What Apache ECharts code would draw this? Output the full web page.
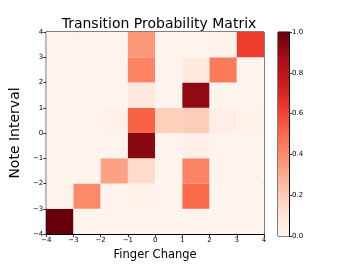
<!DOCTYPE html>
<html>
<head>
<meta charset="utf-8">
<script src="https://cdn.jsdelivr.net/npm/echarts@6/dist/echarts.min.js"></script>
<style>html,body{margin:0;padding:0;background:#fff}#c{width:354px;height:266px}</style>
</head>
<body>
<div id="c"></div>
<script>
// Left edges of cells (Finger Change) and bottom edges (Note Interval)
const xEdges = [-4, -3, -2, -1, 0, 1, 2, 3];
const yEdges = [-4, -3, -2, -1, 0, 1, 2, 3];
// Probability rows, one per Note Interval bottom edge (columns follow xEdges)
const rowY3  = [0.01, 0.01, 0.01, 0.36, 0.01, 0.01, 0.02, 0.62];
const rowY2  = [0.01, 0.01, 0.01, 0.42, 0.01, 0.07, 0.45, 0.01];
const rowY1  = [0.01, 0.01, 0.01, 0.07, 0.01, 0.92, 0.01, 0.01];
const rowY0  = [0.01, 0.01, 0.03, 0.52, 0.18, 0.19, 0.04, 0.02];
const rowYm1 = [0.01, 0.01, 0.01, 0.93, 0.01, 0.04, 0.01, 0.01];
const rowYm2 = [0.01, 0.01, 0.33, 0.14, 0.01, 0.42, 0.01, 0.01];
const rowYm3 = [0.01, 0.40, 0.01, 0.03, 0.01, 0.50, 0.01, 0.01];
const rowYm4 = [1.00, 0.01, 0.01, 0.01, 0.01, 0.01, 0.01, 0.01];
const colorbarTicks = [0, 0.2, 0.4, 0.6, 0.8, 1.0];
const reds = ['#fff5f0','#fee0d2','#fcbba1','#fc9272','#fb6a4a','#ef3b2c','#cb181d','#a50f15','#67000d'];

const rowsByY = {'-4': rowYm4, '-3': rowYm3, '-2': rowYm2, '-1': rowYm1, '0': rowY0, '1': rowY1, '2': rowY2, '3': rowY3};
const data = [];
yEdges.forEach(y => {
  xEdges.forEach((x, i) => data.push([x, y, rowsByY[String(y)][i]]));
});

const minus = v => String(v).replace('-', '\u2212');
const font = 'DejaVu Sans';
const chart = echarts.init(document.getElementById('c'), null, {renderer: 'canvas'});
const axisCommon = {
  axisLine: {show: true, onZero: false, lineStyle: {color: '#000', width: 1}},
  axisTick: {show: true, inside: false, length: 3, lineStyle: {color: '#000', width: 0.8}},
  splitLine: {show: false},
  axisLabel: {fontSize: 7, color: '#000', fontFamily: font, margin: 3}
};
chart.setOption({
  animation: false,
  backgroundColor: '#fff',
  title: {
    text: 'Transition Probability Matrix',
    left: 154, top: 12, textAlign: 'center',
    textStyle: {fontSize: 14, fontWeight: 'normal', color: '#000', fontFamily: font}
  },
  grid: [
    {left: 44, top: 32, width: 220, height: 204, show: true, borderColor: '#000', borderWidth: 1},
    {left: 278, top: 32, width: 11, height: 204, show: true, borderColor: '#000', borderWidth: 1}
  ],
  xAxis: [
    Object.assign({}, axisCommon, {
      gridIndex: 0, type: 'value', min: -4, max: 4, interval: 1,
      axisLabel: Object.assign({}, axisCommon.axisLabel, {formatter: minus}),
      name: 'Finger Change', nameLocation: 'middle', nameGap: 15,
      nameTextStyle: {fontSize: 11.5, color: '#000', fontFamily: font}
    }),
    {gridIndex: 1, type: 'value', min: 0, max: 1, show: false}
  ],
  yAxis: [
    Object.assign({}, axisCommon, {
      gridIndex: 0, type: 'value', min: -4, max: 4, interval: 1,
      axisLabel: Object.assign({}, axisCommon.axisLabel, {formatter: minus}),
      name: 'Note Interval', nameLocation: 'middle', nameGap: 18,
      nameTextStyle: {fontSize: 14, color: '#000', fontFamily: font}
    }),
    Object.assign({}, axisCommon, {
      gridIndex: 1, type: 'value', min: 0, max: 1, interval: 0.2, position: 'right',
      axisLabel: Object.assign({}, axisCommon.axisLabel, {formatter: v => v.toFixed(1)})
    })
  ],
  visualMap: {
    show: false, type: 'continuous', min: 0, max: 1, dimension: 2, seriesIndex: 0,
    inRange: {color: reds}
  },
  series: [
    {
      type: 'custom', xAxisIndex: 0, yAxisIndex: 0,
      encode: {x: 0, y: 1},
      data: data,
      renderItem: function (params, api) {
        const x = api.value(0), y = api.value(1);
        const p0 = api.coord([x, y + 1]);
        const p1 = api.coord([x + 1, y]);
        return {type: 'rect', shape: {x: p0[0], y: p0[1], width: p1[0] - p0[0], height: p1[1] - p0[1]},
          style: {fill: api.visual('color'), stroke: null}};
      },
      z: 1
    },
    {
      type: 'custom', xAxisIndex: 1, yAxisIndex: 1,
      encode: {x: 0, y: 1},
      data: [[0, 0]],
      renderItem: function (params, api) {
        const p0 = api.coord([0, 1]);
        const p1 = api.coord([1, 0]);
        const stops = reds.map((c, i) => ({offset: 1 - i / (reds.length - 1), color: c}));
        stops.reverse();
        return {type: 'rect', shape: {x: p0[0], y: p0[1], width: p1[0] - p0[0], height: p1[1] - p0[1]},
          style: {fill: {type: 'linear', x: 0, y: 0, x2: 0, y2: 1, colorStops: stops}}};
      },
      z: 1
    }
  ]
});
</script>
</body>
</html>
